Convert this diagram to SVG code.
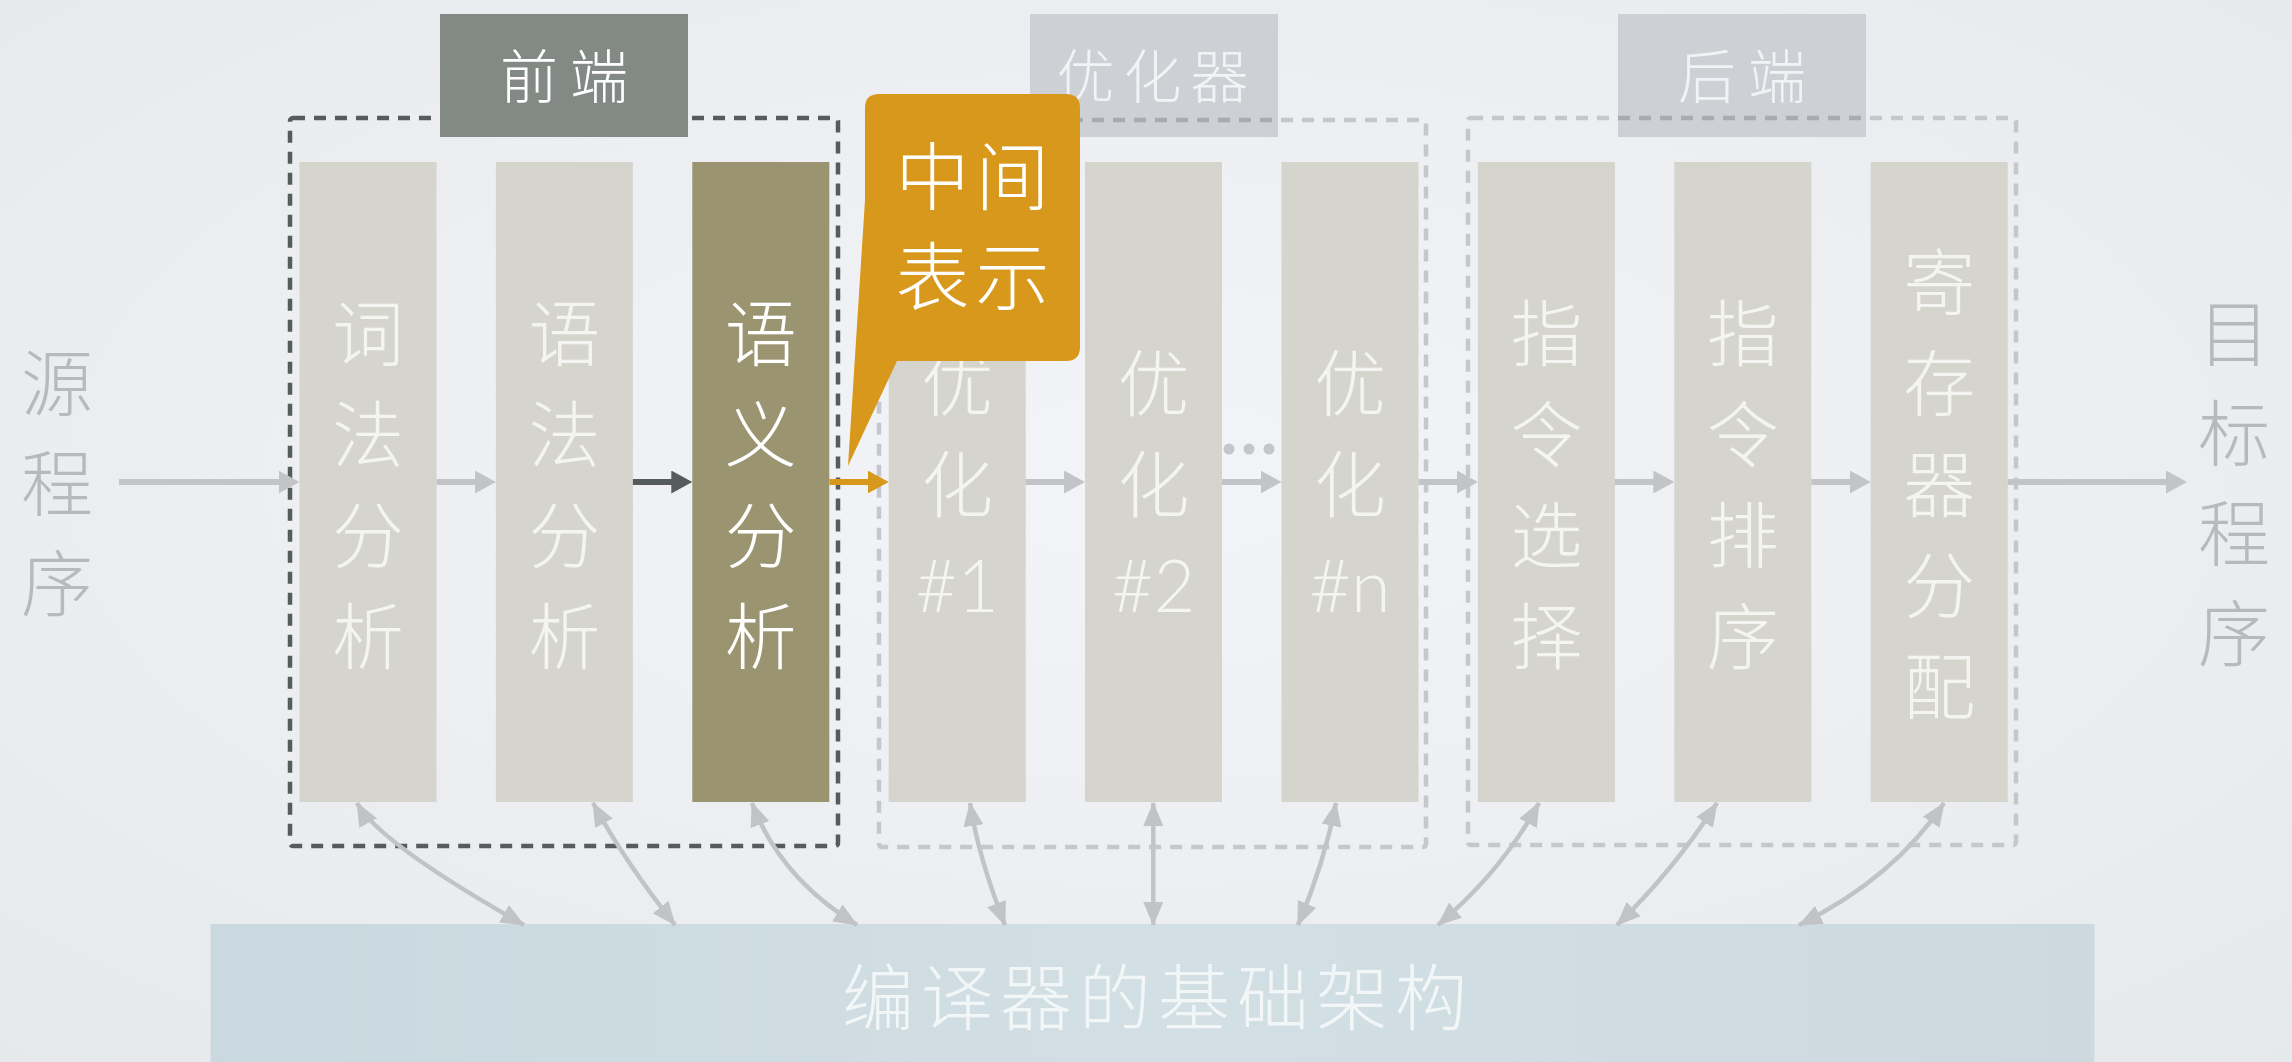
<svg xmlns="http://www.w3.org/2000/svg" width="2292" height="1062" viewBox="0 0 2292 1062">
<defs>
<radialGradient id="bg" cx="50%" cy="45%" r="75%">
<stop offset="0" stop-color="#f3f4f7"/>
<stop offset="1" stop-color="#e6e9ec"/>
</radialGradient>
<linearGradient id="infra" x1="0" y1="0" x2="1" y2="0">
<stop offset="0" stop-color="#c9d9df"/>
<stop offset="0.5" stop-color="#d2dfe4"/>
<stop offset="1" stop-color="#ccdae0"/>
</linearGradient>
<marker id="ahGray" markerUnits="userSpaceOnUse" markerWidth="22" markerHeight="24" refX="1" refY="11.5" orient="auto"><path d="M0,0 L21,11.5 L0,23 z" fill="#c3c4c8"/></marker>
<marker id="ahDark" markerUnits="userSpaceOnUse" markerWidth="22" markerHeight="24" refX="1" refY="11.5" orient="auto"><path d="M0,0 L21,11.5 L0,23 z" fill="#565b5b"/></marker>
<marker id="ahOrange" markerUnits="userSpaceOnUse" markerWidth="22" markerHeight="24" refX="1" refY="11.5" orient="auto"><path d="M0,0 L21,11.5 L0,23 z" fill="#d8981c"/></marker>
<marker id="ahCurve" markerUnits="userSpaceOnUse" markerWidth="25" markerHeight="21" refX="23" refY="10" orient="auto-start-reverse"><path d="M0,0 L24,10 L0,20 z" fill="#c2c3c7"/></marker>
<clipPath id="clipOpt"><rect x="1030" y="14" width="248" height="123"/></clipPath>
<clipPath id="clipBack"><rect x="1618" y="14" width="248" height="123"/></clipPath>
<style>
.cjk{font-family:"Noto Sans CJK SC","Noto Sans CJK JP",sans-serif;font-weight:300;text-anchor:middle}
.lat{font-family:Lato,"Open Sans","Liberation Sans",sans-serif;font-weight:300;text-anchor:middle}
.node{fill:#d5d5ce}
.hl{fill:#9a9570}
.ntxt{font-size:72px;fill:#f4f4f0}
.htxt{font-size:72px;fill:#ffffff}
.side{font-size:72px;fill:#b7babd}
.dash{fill:none;stroke-width:4.5;stroke-dasharray:12 9}
.lbl{font-size:58px}
.row{stroke-width:6;fill:none}
.curve{stroke:#c2c3c7;stroke-width:4.5;fill:none;marker-start:url(#ahCurve);marker-end:url(#ahCurve)}
</style>
</defs>
<rect width="2292" height="1062" fill="url(#bg)"/>

<g id="frames">
<rect class="dash" x="290" y="118" width="548" height="728" rx="3" stroke="#565b5b"/>
<rect class="dash" x="879" y="120" width="547" height="727" rx="3" stroke="#c5c7ca"/>
<rect class="dash" x="1468" y="118" width="548" height="727" rx="3" stroke="#c5c7ca"/>
</g>

<g id="label-frontend">
<rect x="440" y="14" width="248" height="123" fill="#838985"/>
<text class="cjk lbl" x="570" y="98" fill="#ffffff" letter-spacing="12">前端</text>
</g>
<g id="label-optimizer">
<rect x="1030" y="14" width="248" height="123" fill="#cdd1d5"/>
<rect class="dash" x="879" y="120" width="547" height="727" rx="3" stroke="#a9acaf" clip-path="url(#clipOpt)"/>
<text class="cjk lbl" x="1157" y="98" fill="#f1f3f5" letter-spacing="9">优化器</text>
</g>
<g id="label-backend">
<rect x="1618" y="14" width="248" height="123" fill="#cdd1d5"/>
<rect class="dash" x="1468" y="118" width="548" height="727" rx="3" stroke="#a9acaf" clip-path="url(#clipBack)"/>
<text class="cjk lbl" x="1748" y="98" fill="#f1f3f5" letter-spacing="12">后端</text>
</g>

<g id="source">
<text class="cjk side" x="57" y="410">源<tspan x="57" dy="100">程</tspan><tspan x="57" dy="100">序</tspan></text>
</g>
<g id="target">
<text class="cjk side" x="2234" y="360">目<tspan x="2234" dy="100">标</tspan><tspan x="2234" dy="100">程</tspan><tspan x="2234" dy="100">序</tspan></text>
</g>

<g id="n-lex">
<rect class="node" x="299.5" y="162" width="137" height="640"/>
<text class="cjk ntxt" x="368" y="359.5">词<tspan x="368" dy="101">法</tspan><tspan x="368" dy="101">分</tspan><tspan x="368" dy="101">析</tspan></text>
</g>
<g id="n-syn">
<rect class="node" x="495.9" y="162" width="137" height="640"/>
<text class="cjk ntxt" x="564.4" y="359.5">语<tspan x="564.4" dy="101">法</tspan><tspan x="564.4" dy="101">分</tspan><tspan x="564.4" dy="101">析</tspan></text>
</g>
<g id="n-sem">
<rect class="hl" x="692.3" y="162" width="137" height="640"/>
<text class="cjk htxt" x="760.8" y="359.5">语<tspan x="760.8" dy="101">义</tspan><tspan x="760.8" dy="101">分</tspan><tspan x="760.8" dy="101">析</tspan></text>
</g>
<g id="n-opt1">
<rect class="node" x="888.7" y="162" width="137" height="640"/>
<text class="cjk ntxt" x="957.2" y="410">优<tspan x="957.2" dy="101">化</tspan></text>
<text class="lat ntxt" x="957.2" y="612">#1</text>
</g>
<g id="n-opt2">
<rect class="node" x="1085" y="162" width="137" height="640"/>
<text class="cjk ntxt" x="1153.5" y="410">优<tspan x="1153.5" dy="101">化</tspan></text>
<text class="lat ntxt" x="1153.5" y="612">#2</text>
</g>
<g id="n-optn">
<rect class="node" x="1281.5" y="162" width="137" height="640"/>
<text class="cjk ntxt" x="1350" y="410">优<tspan x="1350" dy="101">化</tspan></text>
<text class="lat ntxt" x="1350" y="612">#n</text>
</g>
<g id="n-isel">
<rect class="node" x="1477.9" y="162" width="137" height="640"/>
<text class="cjk ntxt" x="1546.4" y="359.5">指<tspan x="1546.4" dy="101">令</tspan><tspan x="1546.4" dy="101">选</tspan><tspan x="1546.4" dy="101">择</tspan></text>
</g>
<g id="n-isched">
<rect class="node" x="1674.3" y="162" width="137" height="640"/>
<text class="cjk ntxt" x="1742.8" y="359.5">指<tspan x="1742.8" dy="101">令</tspan><tspan x="1742.8" dy="101">排</tspan><tspan x="1742.8" dy="101">序</tspan></text>
</g>
<g id="n-regalloc">
<rect class="node" x="1870.7" y="162" width="137" height="640"/>
<text class="cjk ntxt" x="1939.2" y="309">寄<tspan x="1939.2" dy="101">存</tspan><tspan x="1939.2" dy="101">器</tspan><tspan x="1939.2" dy="101">分</tspan><tspan x="1939.2" dy="101">配</tspan></text>
</g>

<g id="infrastructure">
<rect x="210.5" y="924" width="1884" height="138" fill="url(#infra)"/>
<text class="cjk" x="1158" y="1024" font-size="72" fill="#f2f6f7" letter-spacing="7">编译器的基础架构</text>
</g>

<g id="ellipsis" fill="#c5c6ca">
<circle cx="1229" cy="449" r="5.5"/>
<circle cx="1249" cy="449" r="5.5"/>
<circle cx="1269" cy="449" r="5.5"/>
</g>

<g id="connectors">
<line class="row" x1="119" y1="482" x2="279.5" y2="482" stroke="#c3c4c8" marker-end="url(#ahGray)"/>
<line class="row" x1="436.5" y1="482" x2="475.9" y2="482" stroke="#c3c4c8" marker-end="url(#ahGray)"/>
<line class="row" x1="632.9" y1="482" x2="672.3" y2="482" stroke="#565b5b" marker-end="url(#ahDark)"/>
<line class="row" x1="829.3" y1="482" x2="868.7" y2="482" stroke="#d8981c" marker-end="url(#ahOrange)"/>
<line class="row" x1="1025.7" y1="482" x2="1065" y2="482" stroke="#c3c4c8" marker-end="url(#ahGray)"/>
<line class="row" x1="1222" y1="482" x2="1261.5" y2="482" stroke="#c3c4c8" marker-end="url(#ahGray)"/>
<line class="row" x1="1418.5" y1="482" x2="1457.9" y2="482" stroke="#c3c4c8" marker-end="url(#ahGray)"/>
<line class="row" x1="1614.9" y1="482" x2="1654.3" y2="482" stroke="#c3c4c8" marker-end="url(#ahGray)"/>
<line class="row" x1="1811.3" y1="482" x2="1850.7" y2="482" stroke="#c3c4c8" marker-end="url(#ahGray)"/>
<line class="row" x1="2007.7" y1="482" x2="2167" y2="482" stroke="#c3c4c8" marker-end="url(#ahGray)"/>

<path class="curve" d="M357,803 Q379,843 524,925"/>
<path class="curve" d="M593,803 Q625,862 675,925"/>
<path class="curve" d="M752,803 Q780,878 857,925"/>
<path class="curve" d="M970,803 Q978,856 1005,925"/>
<path class="curve" d="M1153.3,803 L1153.3,925"/>
<path class="curve" d="M1336,803 Q1324,864 1298,925"/>
<path class="curve" d="M1539,803 Q1502,871 1438,925"/>
<path class="curve" d="M1717,803 Q1673,871 1617,925"/>
<path class="curve" d="M1944,803 Q1894,878 1799,925"/>
</g>

<g id="callout">
<path d="M879,94 H1066 Q1080,94 1080,108 V347 Q1080,361 1066,361 H897 L848,466 L865,200 V108 Q865,94 879,94 Z" fill="#d8981c"/>
<text class="cjk" x="975.5" y="204" font-size="74" fill="#ffffff" letter-spacing="6">中间<tspan x="975.5" dy="100">表示</tspan></text>
</g>
</svg>
